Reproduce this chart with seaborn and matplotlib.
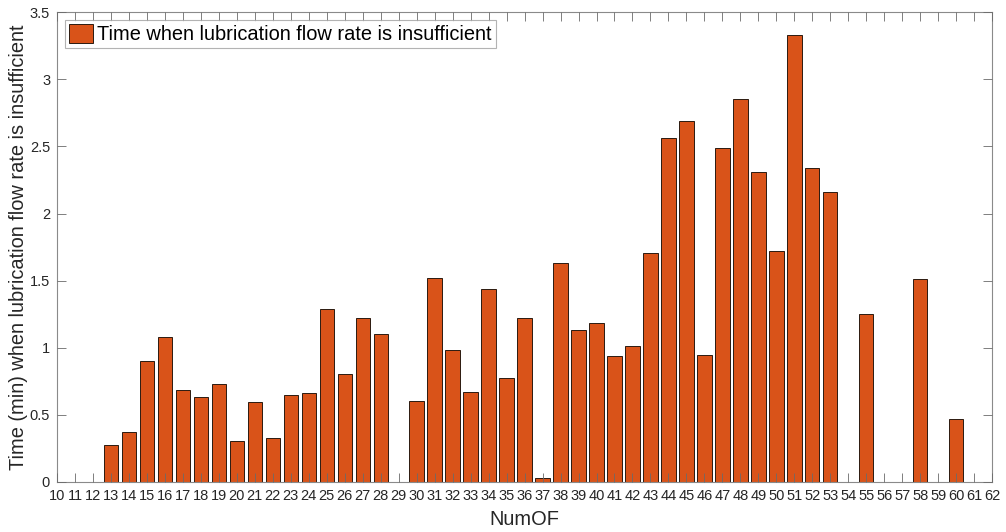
import numpy as np
import pandas as pd
import matplotlib
matplotlib.use("Agg")
import matplotlib.pyplot as plt
import seaborn as sns
from matplotlib.ticker import FuncFormatter

# ---- data ----
num_of = [13, 14, 15, 16, 17, 18, 19, 20, 21, 22, 23, 24, 25, 26, 27, 28,
          30, 31, 32, 33, 34, 35, 36, 37, 38, 39, 40, 41, 42, 43, 44, 45,
          46, 47, 48, 49, 50, 51, 52, 53, 55, 58, 60]
time_min = [0.273, 0.372, 0.903, 1.082, 0.687, 0.635, 0.729, 0.308, 0.595, 0.325,
            0.645, 0.660, 1.290, 0.807, 1.223, 1.099,
            0.606, 1.518, 0.980, 0.667, 1.439, 0.777, 1.223, 0.033, 1.632, 1.134,
            1.186, 0.940, 1.015, 1.703, 2.564, 2.686,
            0.945, 2.490, 2.857, 2.310, 1.720, 3.328, 2.338, 2.164, 1.255, 1.513, 0.467]
all_labels = list(range(10, 63))
legend_label = "Time when lubrication flow rate is insufficient"

df = pd.DataFrame({"NumOF": num_of, "Time": time_min})

sns.set_theme(style="white")
plt.rcParams['font.family'] = ['Liberation Sans', 'DejaVu Sans']

fig = plt.figure(figsize=(10.06, 5.32), dpi=100)
ax = fig.add_axes([0.0567, 0.094, 0.9295, 0.883])

sns.barplot(data=df, x="NumOF", y="Time", order=all_labels, width=0.8,
            color="#D95319", saturation=1, edgecolor="#2a1a10", linewidth=0.7,
            label=legend_label, ax=ax)

ax.set_axisbelow(False)
ax.set_xlim(0, len(all_labels) - 1)
ax.set_ylim(0, 3.5)
ax.set_xticks(range(len(all_labels)))
ax.set_xticklabels([str(v) for v in all_labels])
ax.set_yticks(np.arange(0, 3.51, 0.5))
ax.yaxis.set_major_formatter(FuncFormatter(lambda v, p: "%g" % v))

tick_col = "#262626"
ax.tick_params(axis="both", which="major", direction="in", length=6.5, width=0.6,
               color="#6a6a6a", labelsize=10.5, labelcolor=tick_col,
               top=True, right=True, bottom=True, left=True, pad=5)
for s in ax.spines.values():
    s.set_color("#8a8a8a")
    s.set_linewidth(0.8)

ax.set_xlabel("NumOF", fontsize=14.4, color=tick_col, labelpad=5)
ax.set_ylabel("Time (min) when lubrication flow rate is insufficient", fontsize=14.4,
              color=tick_col, labelpad=1)

leg = ax.legend(loc="upper left", fontsize=14.4, frameon=True, fancybox=False,
                handlelength=1.2, handleheight=1.05, handletextpad=0.2,
                borderpad=0.2, borderaxespad=0.4, labelcolor="black")
leg.get_frame().set_edgecolor("#a0a0a0")
leg.get_frame().set_linewidth(0.8)

fig.savefig("out.png", dpi=100)
